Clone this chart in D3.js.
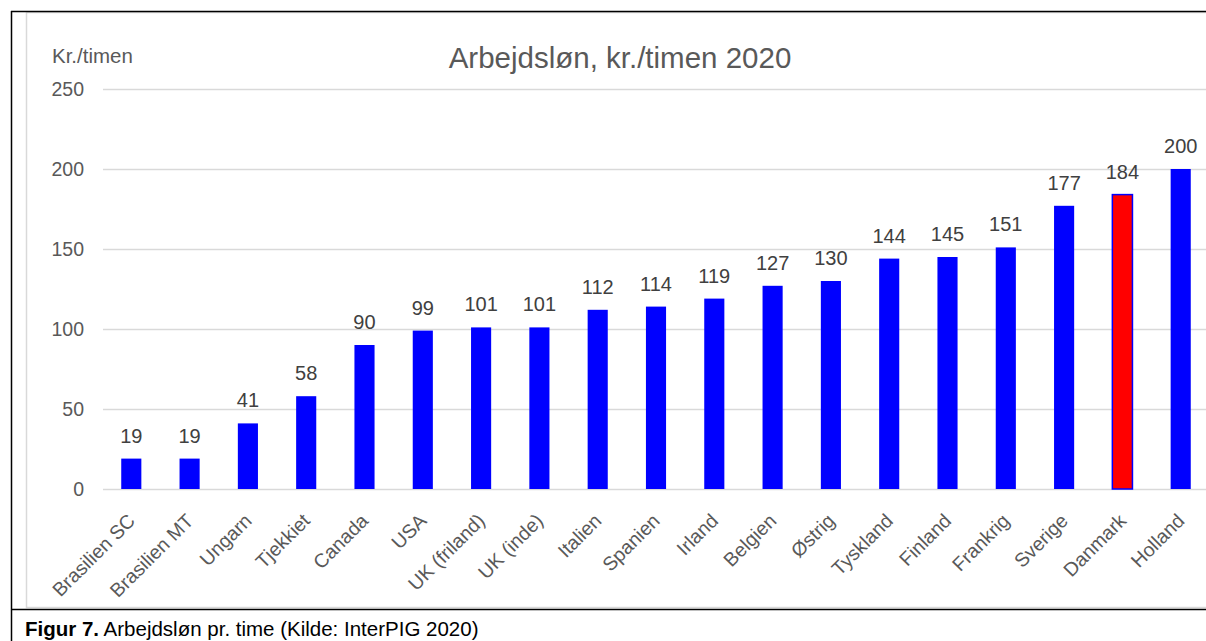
<!DOCTYPE html>
<html><head><meta charset="utf-8">
<script src="https://cdn.jsdelivr.net/npm/d3@7"></script>
<style>body{margin:0;background:#fff;overflow:hidden}svg{display:block}</style>
</head><body>
<svg id="c" width="1206" height="641"></svg>
<script>
const categories = ["Brasilien SC","Brasilien MT","Ungarn","Tjekkiet","Canada","USA","UK (friland)","UK (inde)","Italien","Spanien","Irland","Belgien","Østrig","Tyskland","Finland","Frankrig","Sverige","Danmark","Holland"];
const values = [19,19,41,58,90,99,101,101,112,114,119,127,130,144,145,151,177,184,200];
const highlight = "Danmark";
const yTicks = [0,50,100,150,200,250];
const titleText = "Arbejdsløn, kr./timen 2020";
const yUnit = "Kr./timen";

const svg = d3.select("#c");
const font = "Arial, 'Liberation Sans', sans-serif";

// frames
svg.append("rect").attr("x",26.5).attr("y",12.5).attr("width",1200).attr("height",595).attr("fill","none").attr("stroke","#d9d9d9").attr("stroke-width",1.5);
svg.append("line").attr("x1",11).attr("x2",1206).attr("y1",11.5).attr("y2",11.5).attr("stroke","#000").attr("stroke-width",1.5);
svg.append("line").attr("x1",11.5).attr("x2",11.5).attr("y1",11).attr("y2",641).attr("stroke","#000").attr("stroke-width",1.5);
svg.append("line").attr("x1",11).attr("x2",1206).attr("y1",609.5).attr("y2",609.5).attr("stroke","#000").attr("stroke-width",1.5);

const x = d3.scaleBand().domain(categories).range([102,1210]).paddingInner(0.655).paddingOuter(0.33);
const y = d3.scaleLinear().domain([0,250]).range([489,89]);

// grid
const g = svg.append("g").attr("transform","translate(103,0)");
const yAxis = d3.axisLeft(y).tickValues(yTicks).tickSize(-1110).tickPadding(19);
g.call(yAxis);
g.select(".domain").remove();
g.selectAll(".tick line").attr("stroke","#d9d9d9").attr("stroke-width",1.3);
g.selectAll(".tick text").attr("fill","#595959").style("font-family",font).style("font-size","19.5px");

// bars
svg.append("g").selectAll("rect").data(categories).join("rect")
  .attr("x",d=>x(d)).attr("width",x.bandwidth())
  .attr("y",(d,i)=>y(values[i])).attr("height",(d,i)=>y(0)-y(values[i]))
  .attr("fill",d=>d===highlight?"#ff0000":"#0000ff")
  .attr("stroke",d=>d===highlight?"#0000ff":"none").attr("stroke-width",1.5);

// value labels
svg.append("g").selectAll("text").data(categories).join("text")
  .attr("x",d=>x(d)+x.bandwidth()/2).attr("y",(d,i)=>y(values[i])-16)
  .attr("text-anchor","middle").attr("fill","#404040")
  .style("font-family",font).style("font-size","20px")
  .text((d,i)=>values[i]);

// x axis labels
const xa = svg.append("g").attr("transform","translate(0,489)");
xa.call(d3.axisBottom(x).tickSize(0).tickPadding(0));
xa.select(".domain").remove();
xa.selectAll(".tick text")
  .attr("fill","#595959").style("font-family",font).style("font-size","19.5px")
  .attr("text-anchor","end")
  .attr("y",0).attr("dy","0")
  .attr("transform","translate(5,33) rotate(-45)");

// title
svg.append("text").attr("x",620).attr("y",68).attr("text-anchor","middle")
  .attr("fill","#595959").style("font-family",font).style("font-size","29.5px").text(titleText);
svg.append("text").attr("x",52).attr("y",63)
  .attr("fill","#595959").style("font-family",font).style("font-size","20.5px").text(yUnit);

// caption
const cap = svg.append("text").attr("x",25).attr("y",636).style("font-family",font).style("font-size","20.5px").attr("fill","#000");
cap.append("tspan").attr("font-weight","bold").text("Figur 7.");
cap.append("tspan").text(" Arbejdsløn pr. time (Kilde: InterPIG 2020)");
</script>
</body></html>
